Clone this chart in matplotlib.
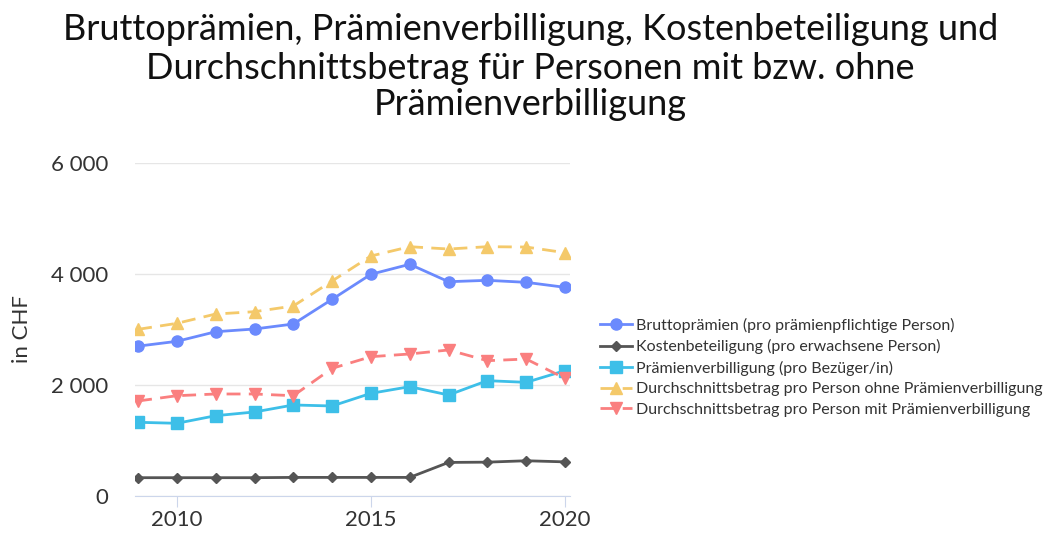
import matplotlib
matplotlib.use("Agg")
import matplotlib.pyplot as plt
from matplotlib.ticker import FuncFormatter

plt.rcParams["font.family"] = ["Lato", "DejaVu Sans"]

years = list(range(2009, 2021))
brutto = [2700, 2787, 2960, 3009, 3099, 3544, 3995, 4175, 3861, 3886, 3850, 3760]
kosten = [330, 330, 330, 330, 335, 335, 335, 335, 605, 610, 635, 615]
verbill = [1328, 1310, 1447, 1514, 1640, 1622, 1850, 1970, 1820, 2078, 2048, 2258]
ohne = [3003, 3111, 3279, 3321, 3423, 3874, 4324, 4492, 4450, 4492, 4486, 4384]
mit = [1712, 1807, 1838, 1838, 1807, 2300, 2510, 2559, 2631, 2438, 2468, 2120]

labels = ["Bruttoprämien (pro prämienpflichtige Person)",
          "Kostenbeteiligung (pro erwachsene Person)",
          "Prämienverbilligung (pro Bezüger/in)",
          "Durchschnittsbetrag pro Person ohne Prämienverbilligung",
          "Durchschnittsbetrag pro Person mit Prämienverbilligung"]
title_lines = ["Bruttoprämien, Prämienverbilligung, Kostenbeteiligung und",
               "Durchschnittsbetrag für Personen mit bzw. ohne",
               "Prämienverbilligung"]

W, H = 1061, 533
fig = plt.figure(figsize=(W / 100, H / 100), dpi=100)
ax = fig.add_axes([135 / W, 37 / H, 435 / W, 333 / H])

ax.plot(years, brutto, "-o", color="#6b8afd", lw=2, ms=8, label=labels[0])
ax.plot(years, kosten, "-D", color="#555555", lw=2, ms=5, label=labels[1])
ax.plot(years, verbill, "-s", color="#3dbfe8", lw=2, ms=8, label=labels[2])
ax.plot(years, ohne, "--^", color="#f4c96a", lw=2, ms=8, dashes=(5, 3),
        label=labels[3])
ax.plot(years, mit, "--v", color="#fa7f7f", lw=2, ms=8, dashes=(5, 3),
        label=labels[4])

ax.set_xlim(2008.92, 2020.13)
ax.set_ylim(0, 6000)
ax.set_yticks([0, 2000, 4000, 6000])
ax.yaxis.set_major_formatter(FuncFormatter(lambda v, p: f"{int(v):,}".replace(",", " ")))
ax.set_xticks([2010, 2015, 2020])
ax.grid(axis="y", color="#e6e6e6", lw=1)
ax.set_axisbelow(True)
for s in ["top", "right", "left"]:
    ax.spines[s].set_visible(False)
ax.spines["bottom"].set_color("#ccd6eb")
ax.tick_params(axis="y", length=0, labelsize=16, colors="#333333", pad=19)
ax.tick_params(axis="x", length=8, color="#ccd6eb", labelsize=16,
               colors="#333333", pad=2)
ax.set_ylabel("in CHF", fontsize=16, color="#333333", labelpad=14)

# title: one text per line, baselines
for line, base in zip(title_lines, [40, 79, 115]):
    fig.text(0.5, 1 - base / H, line, ha="center", va="baseline",
             fontsize=26, color="#111111")

leg = ax.legend(loc="center left", bbox_to_anchor=(1.035, 0.387), frameon=False,
                fontsize=11.5, handlelength=2.0, handletextpad=0.3,
                labelspacing=0.4)
for t in leg.get_texts():
    t.set_color("#333333")

fig.savefig("out.png", dpi=100)
